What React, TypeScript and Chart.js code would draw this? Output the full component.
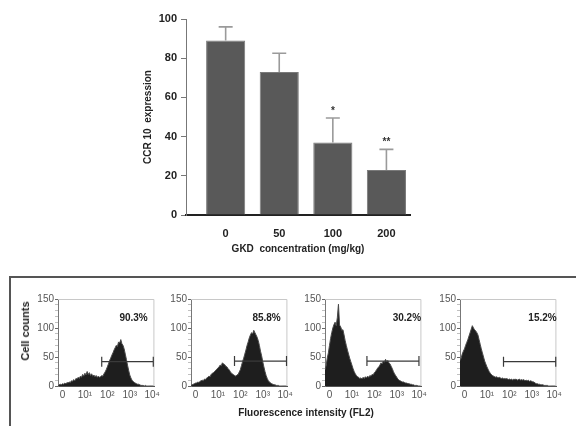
import React, { useEffect, useRef } from "react";
import { Chart, registerables } from "chart.js";

Chart.register(...registerables);

// ---------- Top bar chart data ----------
const DOSES = ["0", "50", "100", "200"];
const CCR10_MEAN = [89, 73, 37, 23];
const CCR10_ERR = [7, 9.5, 12.5, 10.5];
const SIGNIF = ["", "", "*", "**"];

// ---------- Flow cytometry histograms ----------
const BIN_START = -0.2;
const BIN_STEP = 0.05;
const X_TICK_LABELS = ["0", "10\u00B9", "10\u00B2", "10\u00B3", "10\u2074"];
const PERCENTS = ["90.3%", "85.8%", "30.2%", "15.2%"];
const GATE_FROM = [1.75, 1.74, 1.67, 1.74];
const GATE_TO = [4.05, 4.06, 3.99, 4.07];
const GATE_LEVEL = [42, 43, 43, 42];
const PCT_X = [3.17, 3.17, 3.45, 3.48];
const PCT_Y = 116;

const HIST_0 = [
  0, 2, 3, 2, 4, 3, 5, 4, 6, 5,
  7, 6, 9, 8, 11, 9, 13, 12, 15, 13,
  17, 15, 20, 17, 22, 19, 25, 20, 23, 18,
  21, 17, 19, 16, 18, 15, 17, 15, 16, 18,
  17, 21, 24, 28, 33, 38, 44, 48, 53, 57,
  62, 66, 70, 68, 76, 74, 80, 73, 70, 64,
  55, 46, 36, 27, 19, 14, 10, 8, 6, 5,
  4, 3, 3, 2, 1, 1, 1, 0, 1, 0,
  0, 0, 0, 0, 0, 0, 0,
];
const HIST_50 = [
  1, 2, 3, 4, 5, 5, 7, 6, 8, 9,
  10, 9, 12, 11, 14, 15, 17, 16, 20, 22,
  23, 25, 27, 29, 31, 33, 36, 35, 40, 38,
  37, 34, 33, 30, 28, 25, 22, 21, 19, 18,
  17, 19, 20, 24, 28, 35, 42, 48, 55, 62,
  70, 76, 83, 88, 92, 90, 96, 92, 88, 84,
  78, 70, 60, 52, 42, 33, 25, 18, 13, 9,
  7, 5, 4, 3, 2, 2, 1, 1, 1, 0,
  0, 0, 0, 0, 0, 0, 0,
];
const HIST_100 = [
  28, 35, 48, 57, 70, 82, 92, 100, 106, 110,
  104, 118, 141, 105, 102, 96, 97, 88, 78, 70,
  62, 55, 48, 42, 36, 30, 25, 21, 18, 16,
  15, 13, 14, 12, 15, 13, 16, 14, 17, 15,
  18, 17, 20, 19, 23, 25, 28, 31, 33, 36,
  40, 38, 43, 41, 46, 42, 44, 40, 38, 34,
  30, 25, 21, 18, 15, 12, 10, 9, 8, 7,
  7, 6, 5, 5, 4, 4, 3, 3, 2, 2,
  1, 1, 1, 0, 0, 0, 0,
];
const HIST_200 = [
  44, 48, 55, 60, 64, 70, 75, 80, 86, 92,
  98, 104, 100, 97, 95, 92, 88, 80, 72, 64,
  57, 50, 43, 38, 33, 29, 25, 22, 20, 18,
  17, 16, 15, 16, 14, 15, 14, 13, 14, 12,
  13, 12, 13, 11, 12, 11, 12, 10, 12, 11,
  12, 10, 11, 12, 10, 11, 10, 11, 9, 10,
  9, 10, 8, 9, 8, 7, 7, 5, 4, 4,
  3, 3, 2, 2, 2, 1, 1, 1, 1, 0,
  0, 0, 0, 0, 0, 0, 0,
];
const HISTS = [HIST_0, HIST_50, HIST_100, HIST_200];

const FONT = '"Liberation Sans", "DejaVu Sans", Arial, sans-serif';

function barConfig(): any {
  const errorPlugin = {
    id: "errorBars",
    afterDatasetsDraw(chart: any) {
      const { ctx, scales } = chart;
      const xs = scales.x;
      const ys = scales.y;
      ctx.save();
      CCR10_MEAN.forEach((m, i) => {
        const px = xs.getPixelForValue(i);
        const pTop = ys.getPixelForValue(m);
        const pErr = ys.getPixelForValue(m + CCR10_ERR[i]);
        ctx.strokeStyle = "#9a9a9a";
        ctx.lineWidth = 1.6;
        ctx.beginPath();
        ctx.moveTo(px, pTop);
        ctx.lineTo(px, pErr);
        ctx.moveTo(px - 7, pErr);
        ctx.lineTo(px + 7, pErr);
        ctx.stroke();
        if (SIGNIF[i]) {
          ctx.fillStyle = "#333";
          ctx.font = `bold 10px ${FONT}`;
          ctx.textAlign = "center";
          ctx.textBaseline = "middle";
          ctx.fillText(SIGNIF[i], px, pErr - 7);
        }
      });
      ctx.restore();
    },
  };
  return {
    type: "bar",
    data: {
      datasets: [
        {
          data: CCR10_MEAN.map((v, i) => ({ x: i, y: v })),
          backgroundColor: "#595959",
          borderColor: "#7a7a7a",
          borderWidth: 1,
          barPercentage: 0.73,
          categoryPercentage: 1,
        },
      ],
    },
    options: {
      animation: false,
      responsive: false,
      maintainAspectRatio: false,
      layout: { padding: { top: 19, right: 10, left: 0, bottom: 0 } },
      plugins: { legend: { display: false }, tooltip: { enabled: false } },
      scales: {
        x: {
          type: "linear",
          min: -0.74,
          max: 3.44,
          offset: false,
          afterBuildTicks: (s: any) => {
            s.ticks = DOSES.map((_, i) => ({ value: i }));
          },
          afterFit: (s: any) => {
            s.height = 50;
          },
          grid: { display: false, tickLength: 0 },
          border: { display: true, color: "#222", width: 2 },
          ticks: {
            padding: 12,
            color: "#222",
            font: { family: FONT, size: 11, weight: "bold" },
            callback: (v: any) => DOSES[Math.round(v)],
          },
          title: {
            display: true,
            text: "GKD  concentration (mg/kg)",
            color: "#222",
            font: { family: FONT, size: 10, weight: "bold" },
            padding: { top: 0, bottom: 10 },
          },
        },
        y: {
          min: 0,
          max: 100,
          afterFit: (s: any) => {
            s.width = 56;
          },
          grid: {
            display: true,
            drawOnChartArea: false,
            drawTicks: true,
            tickLength: 5,
            color: "#777",
          },
          border: { display: true, color: "#777", width: 1 },
          ticks: {
            stepSize: 20,
            padding: 4,
            color: "#222",
            font: { family: FONT, size: 11, weight: "bold" },
          },
          title: {
            display: true,
            text: "CCR 10  expression",
            color: "#222",
            font: { family: FONT, size: 10, weight: "bold" },
            padding: { top: 12, bottom: 0 },
          },
        },
      },
    },
    plugins: [errorPlugin],
  };
}

function histConfig(idx: number): any {
  const values = HISTS[idx];
  const decor = {
    id: "histDecor",
    afterDatasetsDraw(chart: any) {
      const { ctx, chartArea: a, scales } = chart;
      const xs = scales.x;
      const ys = scales.y;
      ctx.save();
      ctx.strokeStyle = "#c8c8c8";
      ctx.lineWidth = 1;
      ctx.beginPath();
      ctx.moveTo(a.left, a.top + 0.5);
      ctx.lineTo(a.right - 0.5, a.top + 0.5);
      ctx.lineTo(a.right - 0.5, a.bottom);
      ctx.stroke();

      const gy = ys.getPixelForValue(GATE_LEVEL[idx]);
      const g1 = xs.getPixelForValue(GATE_FROM[idx]);
      const g2 = xs.getPixelForValue(GATE_TO[idx]);
      ctx.strokeStyle = "#3a3a3a";
      ctx.lineWidth = 1.2;
      ctx.beginPath();
      ctx.moveTo(g1, gy);
      ctx.lineTo(g2, gy);
      ctx.moveTo(g1, gy - 5);
      ctx.lineTo(g1, gy + 5);
      ctx.moveTo(g2, gy - 5);
      ctx.lineTo(g2, gy + 5);
      ctx.stroke();

      ctx.fillStyle = "#222";
      ctx.font = `bold 10px ${FONT}`;
      ctx.textAlign = "center";
      ctx.textBaseline = "middle";
      ctx.fillText(PERCENTS[idx], xs.getPixelForValue(PCT_X[idx]), ys.getPixelForValue(PCT_Y));
      ctx.restore();
    },
  };
  return {
    type: "line",
    data: {
      datasets: [
        {
          data: values.map((v, i) => ({ x: BIN_START + i * BIN_STEP, y: v })),
          borderColor: "#4a4a4a",
          borderWidth: 1,
          backgroundColor: "#1e1e1e",
          fill: "origin",
          pointRadius: 0,
          tension: 0,
        },
      ],
    },
    options: {
      animation: false,
      responsive: false,
      maintainAspectRatio: false,
      layout: { padding: { top: 14, right: 5, left: 0, bottom: 0 } },
      plugins: { legend: { display: false }, tooltip: { enabled: false } },
      scales: {
        x: {
          type: "linear",
          min: -0.2,
          max: 4.1,
          afterBuildTicks: (s: any) => {
            s.ticks = X_TICK_LABELS.map((_, i) => ({ value: i }));
          },
          afterFit: (s: any) => {
            s.height = 24;
          },
          grid: { display: false, tickLength: 0 },
          border: { display: true, color: "#555", width: 1 },
          ticks: {
            padding: 3,
            maxRotation: 0,
            color: "#555",
            font: { family: FONT, size: 10 },
            callback: (v: any) => X_TICK_LABELS[Math.round(v)],
          },
        },
        y: {
          min: 0,
          max: 150,
          afterFit: (s: any) => {
            s.width = 40;
          },
          grid: {
            display: true,
            drawOnChartArea: false,
            drawTicks: true,
            tickLength: 3,
            tickColor: (c: any) => (c.tick && c.tick.value % 50 === 0 ? "#666" : "#c0c0c0"),
          },
          border: { display: true, color: "#777", width: 1 },
          ticks: {
            stepSize: 10,
            autoSkip: false,
            padding: 1,
            color: "#555",
            font: { family: FONT, size: 10 },
            callback: (v: any) => (v % 50 === 0 ? String(v) : ""),
          },
        },
      },
    },
    plugins: [decor],
  };
}

function ChartBox({ make, style, width, height }: { make: () => any; style: any; width: number; height: number }) {
  const ref = useRef<HTMLCanvasElement | null>(null);
  useEffect(() => {
    if (!ref.current) return;
    const chart = new Chart(ref.current, make());
    return () => chart.destroy();
  }, []);
  return (
    <canvas
      ref={ref}
      width={width}
      height={height}
      style={{ position: "absolute", width, height, ...style }}
    />
  );
}

const PANEL_LEFTS = [58, 191, 325, 460];

export default function App() {
  return (
    <div
      style={{
        position: "absolute",
        left: 0,
        top: 0,
        width: 576,
        height: 426,
        overflow: "hidden",
        background: "#fff",
        fontFamily: FONT,
      }}
    >
      <ChartBox make={barConfig} width={290} height={265} style={{ left: 130, top: 0 }} />
      <div
        style={{
          position: "absolute",
          left: 9,
          top: 276,
          width: 600,
          height: 200,
          borderTop: "2px solid #555",
          borderLeft: "2px solid #555",
          boxSizing: "border-box",
        }}
      />
      {PANEL_LEFTS.map((pl, i) => (
        <ChartBox
          key={i}
          make={() => histConfig(i)}
          width={145}
          height={125}
          style={{ left: pl - 40, top: 285 }}
        />
      ))}
      <div
        style={{
          position: "absolute",
          left: 25,
          top: 331,
          transform: "translate(-50%, -50%) rotate(-90deg)",
          whiteSpace: "nowrap",
          fontWeight: "bold",
          fontSize: 11,
          color: "#222",
        }}
      >
        Cell counts
      </div>
      <div
        style={{
          position: "absolute",
          left: 306,
          top: 412,
          transform: "translate(-50%, -50%)",
          whiteSpace: "nowrap",
          fontWeight: "bold",
          fontSize: 10,
          color: "#222",
        }}
      >
        Fluorescence intensity (FL2)
      </div>
    </div>
  );
}
